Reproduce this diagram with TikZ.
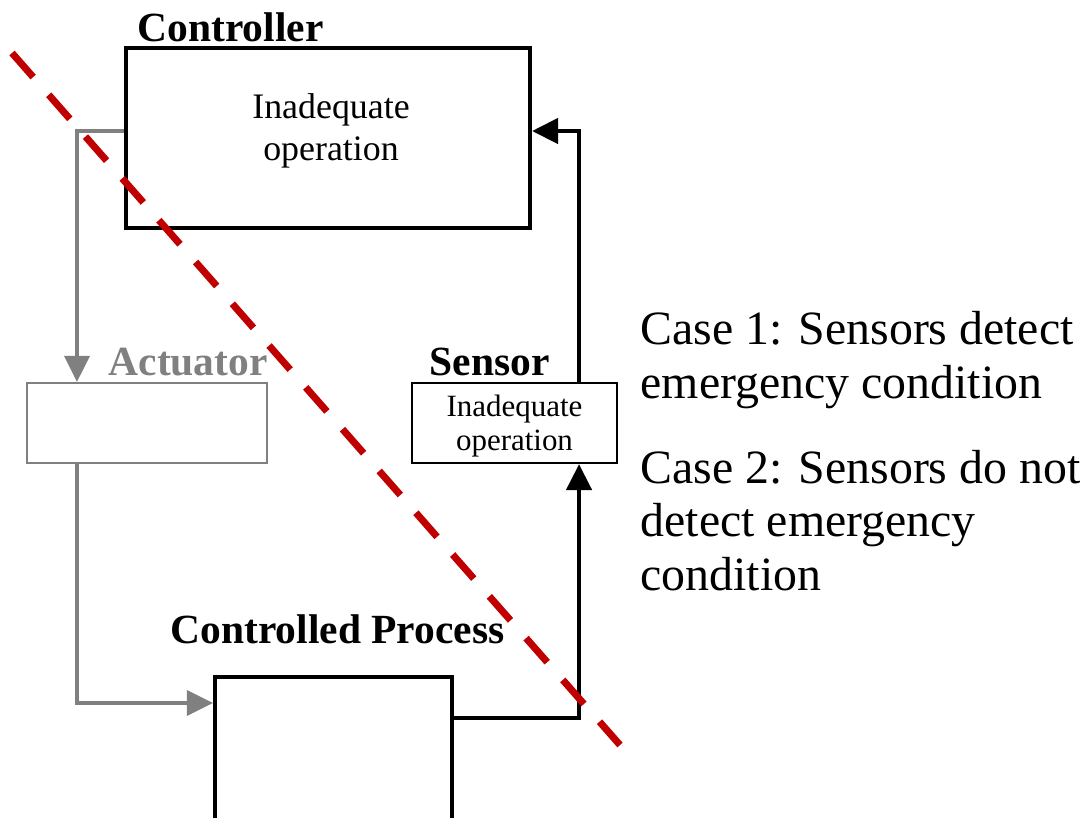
\documentclass[tikz,border=0pt]{standalone}
\usepackage{fontspec}
\setmainfont{Liberation Serif}
\usetikzlibrary{arrows.meta, calc, positioning}
\definecolor{cutred}{RGB}{192,0,0}
\definecolor{actgray}{RGB}{128,128,128}

\begin{document}
\begin{tikzpicture}[x=0.01cm, y=-0.01cm,
  bigbox/.style={draw, line width=1.1pt, inner sep=0pt},
  smallbox/.style={draw, line width=0.6pt, inner sep=0pt},
  lbl/.style={anchor=base west, inner sep=0pt, font=\fontsize{11.8pt}{14pt}\selectfont\bfseries},
  casetxt/.style={anchor=base west, inner sep=0pt, align=left, font=\fontsize{13.6pt}{15.1pt}\selectfont},
  tip/.style={-{Triangle[length=0.26cm, width=0.25cm]}}]
\useasboundingbox (0,0) rectangle (1082,817);
% boxes
\node[bigbox, minimum width=4.04cm, minimum height=1.80cm] (ctrl) at (328,138) {};
\node[smallbox, draw=actgray, minimum width=2.40cm, minimum height=0.80cm] (act) at (147,423) {};
\node[smallbox, minimum width=2.05cm, minimum height=0.80cm] (sens) at (514.5,423) {};
\node[bigbox, minimum width=2.37cm, minimum height=1.60cm] (proc) at (333.5,757) {};
\node[font=\fontsize{10.2pt}{12pt}\selectfont, align=center] (ctrltxt) at (331,131) {Inadequate\\operation};
\node[font=\fontsize{8.8pt}{9.6pt}\selectfont, align=center] (senstxt) at ([yshift=-0.03cm]sens.center) {Inadequate\\operation};
% labels
\foreach \nm/\px/\py/\col/\txt in {ctrllbl/137/41/black/Controller, actlbl/108/375/actgray/Actuator, senslbl/429/375/black/Sensor, proclbl/170/643/black/Controlled Process}
{
    \node[lbl, text=\col] (\nm) at (\px,\py) {\txt};
}
% control loop
\draw[actgray, line width=1pt, tip] ([yshift=0.07cm]ctrl.west) -| ([xshift=-0.7cm]act.north);
\draw[actgray, line width=1pt, tip] ([xshift=-0.7cm]act.south) |- ([yshift=0.54cm]proc.west);
\draw[line width=1.3pt, tip] ([yshift=0.39cm]proc.east) -| ([xshift=0.645cm]sens.south);
\draw[line width=1.3pt, tip] ([xshift=0.645cm]sens.north) |- ([yshift=0.07cm]ctrl.east);
% cut line
\draw[cutred, line width=2pt, dash pattern=on 0.32cm off 0.236cm] (12,53) -- (620,745);
% cases (anchored at the last line)
\node[casetxt] (case1) at (640,398) {Case 1: Sensors detect\\emergency condition};
\node[casetxt] (case2) at (640,590) {Case 2: Sensors do not\\detect emergency\\condition};
\end{tikzpicture}
\end{document}
